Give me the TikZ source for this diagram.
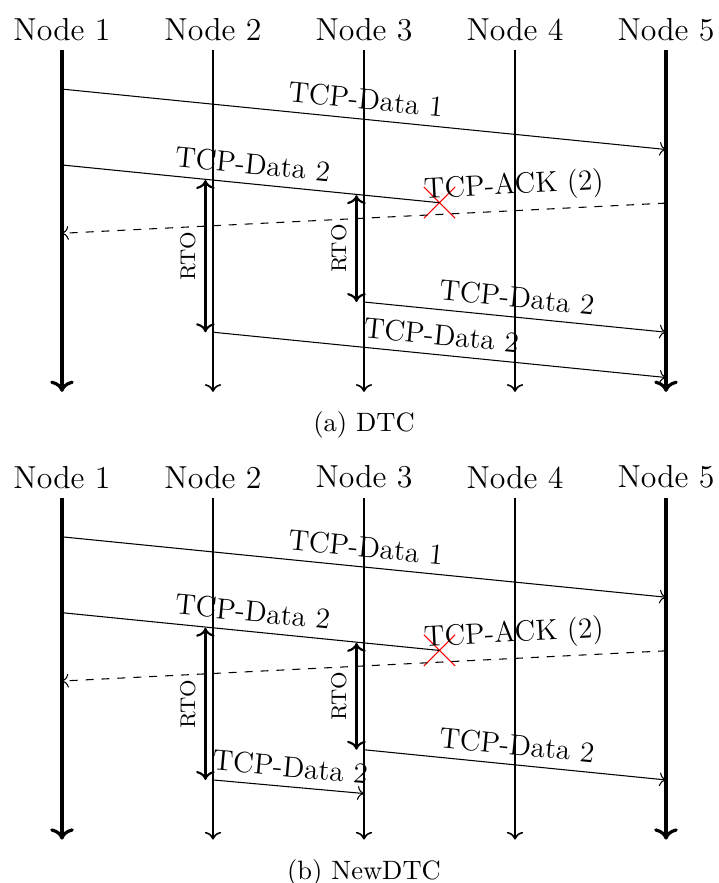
\documentclass[tikz,border=0pt]{standalone}
\usepackage{tikz}
\usetikzlibrary{positioning,arrows.meta,shapes.misc}

\begin{document}
\begin{tikzpicture}[
		every node/.style={
			align=center
		},
		actor/.style={font=\large},
		msglabel/.style={font=\fontsize{11}{13}\selectfont,above,sloped},
		rtolabel/.style={font=\footnotesize,above,sloped},
		lost/.style={cross out,draw=red,thin,minimum size=0.4cm,inner sep=0pt}
		]
		
		\useasboundingbox (-0.821,0) rectangle (8.689,-11.695);
		
		% (a) DTC
		\node[actor] (a1) at (0,-0.39) {Node 1};
		\node[actor] (a2) at (2,-0.39) {Node 2};
		\node[actor] (a3) at (4,-0.39) {Node 3};
		\node[actor] (a4) at (6,-0.39) {Node 4};
		\node[actor] (a5) at (8,-0.39) {Node 5};
		
		\coordinate (a1end) at (0,-5.19);
		\coordinate (a2end) at (2,-5.19);
		\coordinate (a3end) at (4,-5.19);
		\coordinate (a4end) at (6,-5.19);
		\coordinate (a5end) at (8,-5.19);
		
		\draw[->,very thick] (a1)--(a1end);
		\draw[->,semithick] (a2)--(a2end);
		\draw[->,semithick] (a3)--(a3end);
		\draw[->,semithick] (a4)--(a4end);
		\draw[->,very thick] (a5)--(a5end);
		
		\coordinate (a1d1) at (0,-1.18);
		\coordinate (a5d1) at (8,-1.98);
		\coordinate (a1d2) at (0,-2.185);
		\coordinate (a5ack) at (8,-2.69);
		\coordinate (a1ack) at (0,-3.09);
		\coordinate (a2rto) at (1.9,-2.385);
		\coordinate (a2rtoend) at (1.9,-4.40);
		\coordinate (a3rto) at (3.9,-2.585);
		\coordinate (a3rtoend) at (3.9,-4.0);
		\coordinate (a3re) at (4,-4.0);
		\coordinate (a5re3) at (8,-4.4);
		\coordinate (a2re) at (2,-4.40);
		\coordinate (a5re2) at (8,-5.0);
		\node[lost] (alost) at (5,-2.685) {};
		
		\draw[->] (a1d1)--node[msglabel]{TCP-Data 1}(a5d1);
		\draw (a1d2)--node[msglabel]{TCP-Data 2}(alost.center);
		\draw[->,dashed] (a5ack)--node[msglabel,pos=0.25]{TCP-ACK (2)}(a1ack);
		\draw[<->,thick] (a2rtoend)--node[rtolabel]{RTO}(a2rto);
		\draw[<->,thick] (a3rtoend)--node[rtolabel]{RTO}(a3rto);
		\draw[->] (a3re)--node[msglabel]{TCP-Data 2}(a5re3);
		\draw[->] (a2re)--node[msglabel]{TCP-Data 2}(a5re2);
		
		\node (capa) at (4,-5.63) {(a) DTC};
		
		% (b) NewDTC
		\begin{scope}[yshift=-5.93cm]
		\node[actor] (b1) at (0,-0.39) {Node 1};
		\node[actor] (b2) at (2,-0.39) {Node 2};
		\node[actor] (b3) at (4,-0.39) {Node 3};
		\node[actor] (b4) at (6,-0.39) {Node 4};
		\node[actor] (b5) at (8,-0.39) {Node 5};
		
		\coordinate (b1end) at (0,-5.19);
		\coordinate (b2end) at (2,-5.19);
		\coordinate (b3end) at (4,-5.19);
		\coordinate (b4end) at (6,-5.19);
		\coordinate (b5end) at (8,-5.19);
		
		\draw[->,very thick] (b1)--(b1end);
		\draw[->,semithick] (b2)--(b2end);
		\draw[->,semithick] (b3)--(b3end);
		\draw[->,semithick] (b4)--(b4end);
		\draw[->,very thick] (b5)--(b5end);
		
		\coordinate (b1d1) at (0,-1.18);
		\coordinate (b5d1) at (8,-1.98);
		\coordinate (b1d2) at (0,-2.185);
		\coordinate (b5ack) at (8,-2.69);
		\coordinate (b1ack) at (0,-3.09);
		\coordinate (b2rto) at (1.9,-2.385);
		\coordinate (b2rtoend) at (1.9,-4.40);
		\coordinate (b3rto) at (3.9,-2.585);
		\coordinate (b3rtoend) at (3.9,-4.0);
		\coordinate (b3re) at (4,-4.0);
		\coordinate (b5re3) at (8,-4.4);
		\coordinate (b2re) at (2,-4.40);
		\coordinate (b3re2) at (4,-4.58);
		\node[lost] (blost) at (5,-2.685) {};
		
		\draw[->] (b1d1)--node[msglabel]{TCP-Data 1}(b5d1);
		\draw (b1d2)--node[msglabel]{TCP-Data 2}(blost.center);
		\draw[->,dashed] (b5ack)--node[msglabel,pos=0.25]{TCP-ACK (2)}(b1ack);
		\draw[<->,thick] (b2rtoend)--node[rtolabel]{RTO}(b2rto);
		\draw[<->,thick] (b3rtoend)--node[rtolabel]{RTO}(b3rto);
		\draw[->] (b3re)--node[msglabel]{TCP-Data 2}(b5re3);
		\draw[->] (b2re)--node[msglabel]{TCP-Data 2}(b3re2);
		
		\node (capb) at (4,-5.63) {(b) NewDTC};
		\end{scope}
		
	\end{tikzpicture}
\end{document}
